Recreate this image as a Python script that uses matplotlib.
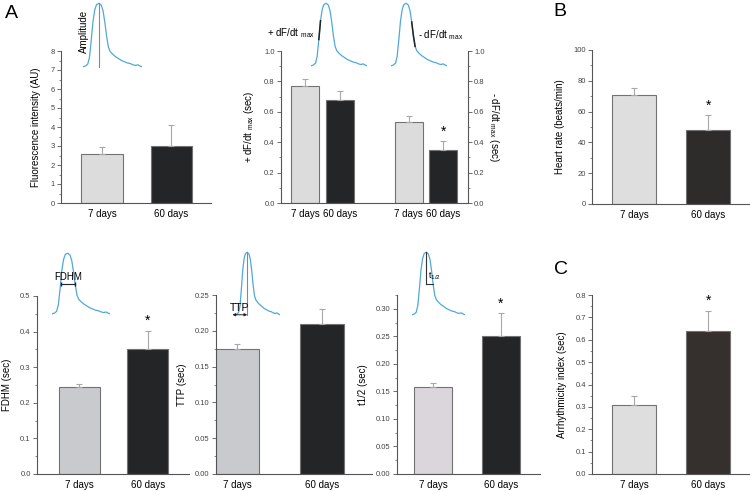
import numpy as np
import matplotlib
matplotlib.use('Agg')
from matplotlib import pyplot as plt
from matplotlib.ticker import MultipleLocator, FormatStrFormatter

plt.rcParams['font.family'] = ['Liberation Sans', 'DejaVu Sans']
plt.rcParams['mathtext.fontset'] = 'custom'
plt.rcParams['mathtext.rm'] = 'Liberation Sans'
plt.rcParams['mathtext.it'] = 'Liberation Sans'

# ---- data ----
groups = ['7 days', '60 days']

amp_vals = [2.6, 3.0]
amp_err = [0.35, 1.1]

dfdt_pos = [0, 1, 3, 4]
dfdt_labels = ['7 days', '60 days', '7 days', '60 days']
dfdt_vals = [0.77, 0.68, 0.53, 0.35]
dfdt_err = [0.045, 0.055, 0.045, 0.06]

hr_vals = [71, 48]
hr_err = [4, 10]

fdhm_vals = [0.243, 0.352]
fdhm_err = [0.01, 0.05]

ttp_vals = [0.175, 0.21]
ttp_err = [0.007, 0.02]

thalf_vals = [0.158, 0.25]
thalf_err = [0.008, 0.042]

arr_vals = [0.31, 0.64]
arr_err = [0.04, 0.09]

# calcium transient trace for the insets (normalised)
trace_t = [0.00, 0.04, 0.08, 0.11, 0.14, 0.17, 0.20, 0.23, 0.27, 0.31, 0.34, 0.37,
           0.40, 0.43, 0.46, 0.50, 0.55, 0.60, 0.65, 0.70, 0.75, 0.80, 0.85, 0.89,
           0.93, 0.97, 1.00]
trace_f = [0.00, 0.01, 0.04, 0.15, 0.42, 0.72, 0.90, 0.98, 1.00, 0.97, 0.88, 0.70,
           0.48, 0.31, 0.24, 0.20, 0.16, 0.13, 0.10, 0.08, 0.06, 0.05, 0.03, 0.02,
           0.03, 0.01, 0.00]

W, H = 750, 491
fig = plt.figure(figsize=(7.5, 4.91), dpi=100)

LIGHT = '#dcdcdc'
DARK = '#232527'
EDGE = '#727272'
BLUE = '#4fa9d9'
TXT = 7


def px_axes(l, t, r, b):
    return fig.add_axes([l / W, 1 - b / H, (r - l) / W, (b - t) / H])


def style(ax, ymax, major, minor, fmt):
    ax.set_ylim(0, ymax)
    ax.yaxis.set_major_locator(MultipleLocator(major))
    ax.yaxis.set_minor_locator(MultipleLocator(minor))
    ax.yaxis.set_major_formatter(FormatStrFormatter(fmt))
    for s in ['top', 'right']:
        ax.spines[s].set_visible(False)
    for s in ['left', 'bottom']:
        ax.spines[s].set_color('#555555')
        ax.spines[s].set_linewidth(0.8)
    ax.tick_params(axis='y', which='major', length=3, width=0.6, color='#555555',
                   labelsize=5.5, labelcolor='#444444', pad=1.5)
    ax.tick_params(axis='y', which='minor', length=1.5, width=0.5, color='#555555')
    ax.tick_params(axis='x', length=0, labelsize=TXT, pad=4)


def bars(ax, pos, vals, errs, colors, width, star=()):
    ax.bar(pos, vals, width, color=colors, edgecolor=EDGE, linewidth=0.8, zorder=2)
    ax.errorbar(pos, vals, yerr=[np.zeros(len(vals)), errs], fmt='none',
                ecolor='#a8a8a8', elinewidth=0.8, capsize=2, capthick=0.8, zorder=3)
    top = ax.get_ylim()[1]
    for i in star:
        ax.text(pos[i], vals[i] + errs[i] + top * 0.015, '*', ha='center',
                va='bottom', fontsize=10)


def inset(l, t, r, b):
    ax = px_axes(l, t, r, b)
    ax.plot(trace_t, trace_f, color=BLUE, lw=0.9)
    ax.set_xlim(0, 1)
    ax.set_ylim(-0.02, 1.02)
    ax.axis('off')
    return ax


SUB = '$_{\\mathrm{max}}$'

# ---- A: amplitude ----
ax = px_axes(61, 51, 211, 203)
style(ax, 8, 1, 0.5, '%d')
bars(ax, [0, 1], amp_vals, amp_err, [LIGHT, DARK], 0.6)
ax.set_xlim(-0.59, 1.57)
ax.set_xticks([0, 1], groups)
ax.set_ylabel('Fluorescence intensity (AU)', fontsize=TXT, labelpad=7)

ins = inset(83, 2, 142, 68)
peak = trace_t[int(np.argmax(trace_f))]
ins.plot([peak, peak], [0, 1], color='#888888', lw=0.8)
ins.text(0.02, 0.55, 'Amplitude', rotation=90, ha='center', va='center', fontsize=TXT)

# ---- A: dF/dt ----
ax = px_axes(281, 51, 468, 203)
style(ax, 1.0, 0.2, 0.1, '%.1f')
bars(ax, dfdt_pos, dfdt_vals, dfdt_err, [LIGHT, DARK, LIGHT, DARK], 0.81, star=[3])
ax.set_xlim(-0.70, 4.72)
ax.set_xticks(dfdt_pos, dfdt_labels)
ax.set_ylabel('+ dF/dt ' + SUB + ' (sec)', fontsize=TXT, labelpad=6)
ax2 = ax.twinx()
style(ax2, 1.0, 0.2, 0.1, '%.1f')
ax2.spines['left'].set_visible(False)
ax2.spines['bottom'].set_visible(False)
ax2.spines['right'].set_visible(True)
ax2.spines['right'].set_color('#555555')
ax2.spines['right'].set_linewidth(0.8)
ax2.set_ylabel('- dF/dt ' + SUB + ' (sec)', fontsize=TXT, rotation=270, labelpad=12)

t = np.array(trace_t)
f = np.array(trace_f)
ip = int(np.argmax(f))
ins = inset(311, 2, 367, 67)
m = (f >= 0.28) & (f <= 0.78) & (np.arange(len(f)) < ip)
ins.plot(t[m], f[m], color='#222222', lw=1.1)
fig.text(315 / W, 1 - 33 / H, '+ dF/dt ' + SUB, ha='right', va='center', fontsize=TXT)

ins = inset(391, 2, 447, 67)
m = (f >= 0.28) & (f <= 0.75) & (np.arange(len(f)) > ip)
ins.plot(t[m], f[m], color='#222222', lw=1.1)
fig.text(418 / W, 1 - 35 / H, '- dF/dt ' + SUB, ha='left', va='center', fontsize=TXT)

# ---- B: heart rate ----
ax = px_axes(592, 50, 749, 204)
style(ax, 100, 20, 10, '%d')
bars(ax, [0, 1], hr_vals, hr_err, ['#dedede', '#2e2b2b'], 0.59, star=[1])
ax.set_xlim(-0.57, 1.55)
ax.set_xticks([0, 1], groups)
ax.set_ylabel('Heart rate (beats/min)', fontsize=TXT, labelpad=6)

# ---- A: FDHM ----
ax = px_axes(37, 296, 189, 474)
style(ax, 0.5, 0.1, 0.05, '%.1f')
bars(ax, [0, 1], fdhm_vals, fdhm_err, ['#c9cace', DARK], 0.6, star=[1])
ax.set_xlim(-0.62, 1.6)
ax.set_xticks([0, 1], groups)
ax.set_ylabel('FDHM (sec)', fontsize=TXT, labelpad=6)

ins = inset(52, 252, 110, 315)
rise = np.interp(0.5, f[:ip + 1], t[:ip + 1])
fall = np.interp(0.5, f[ip:][::-1], t[ip:][::-1])
ins.plot([rise, fall], [0.5, 0.5], color='#222222', lw=0.8, marker='|', ms=3)
ins.text((rise + fall) / 2, 0.53, 'FDHM', ha='center', va='bottom', fontsize=TXT)

# ---- A: TTP ----
ax = px_axes(216, 295, 372, 474)
style(ax, 0.25, 0.05, 0.025, '%.2f')
bars(ax, [0, 1], ttp_vals, ttp_err, ['#c9cace', DARK], 0.51)
ax.set_xlim(-0.25, 1.59)
ax.set_xticks([0, 1], groups)
ax.set_ylabel('TTP (sec)', fontsize=TXT, labelpad=6)

ins = inset(232, 251, 280, 316)
ins.set_xlim(-0.07, 1)
ins.plot([t[ip], t[ip]], [0, 1], color='#888888', lw=0.8)
ins.annotate('', xy=(-0.06, 0.0), xytext=(t[ip], 0.0),
             arrowprops=dict(arrowstyle='<|-|>', lw=0.7, color='#222222',
                             mutation_scale=4, shrinkA=0, shrinkB=0))
ins.text(0.09, 0.03, 'TTP', ha='center', va='bottom', fontsize=TXT + 0.5)

# ---- A: t1/2 ----
ax = px_axes(397, 295, 540, 474)
style(ax, 0.325, 0.05, 0.025, '%.2f')
bars(ax, [0, 1], thalf_vals, thalf_err, ['#dad6dc', DARK], 0.56, star=[1])
ax.set_xlim(-0.53, 1.58)
ax.set_xticks([0, 1], groups)
ax.set_ylabel('t1/2 (sec)', fontsize=TXT, labelpad=6)

ins = inset(412, 251, 465, 316)
ins.plot([t[ip], t[ip]], [0.5, 1], color='#333333', lw=0.8)
ins.plot([t[ip], fall], [0.5, 0.5], color='#333333', lw=0.8)
ins.text(t[ip] + 0.03, 0.52, 't$_{1/2}$', ha='left', va='bottom', fontsize=6.5)

# ---- C: arrhythmicity ----
ax = px_axes(592, 295, 749, 474)
style(ax, 0.8, 0.1, 0.05, '%.1f')
bars(ax, [0, 1], arr_vals, arr_err, ['#dedede', '#35302e'], 0.59, star=[1])
ax.set_xlim(-0.57, 1.55)
ax.set_xticks([0, 1], groups)
ax.set_ylabel('Arrhythmicity index (sec)', fontsize=TXT, labelpad=6)

# panel letters
fig.text(5 / W, 1 - 14 / H, 'A', fontsize=14, va='center')
fig.text(553 / W, 1 - 11 / H, 'B', fontsize=14, va='center')
fig.text(554 / W, 1 - 269 / H, 'C', fontsize=14, va='center')

fig.savefig('out.png', dpi=100)
